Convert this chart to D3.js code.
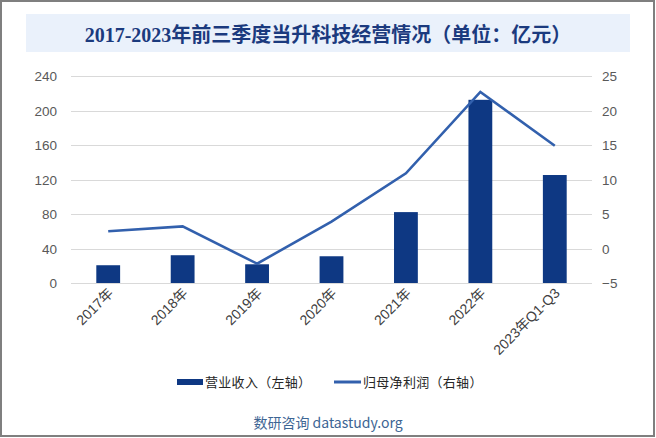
<!DOCTYPE html>
<html><head><meta charset="utf-8">
<script src="https://cdn.jsdelivr.net/npm/d3@7"></script>
<style>
html,body{margin:0;padding:0;background:#fff;}
svg{display:block;}
</style></head>
<body>
<svg id="chart" width="656" height="438"></svg>
<script>
const categories = ["2017年","2018年","2019年","2020年","2021年","2022年","2023年Q1-Q3"];
const revenue = [20.6, 32.2, 21.7, 31.0, 82.2, 212.4, 125.2];
const netProfit = [2.5, 3.2, -2.2, 3.9, 10.9, 22.7, 14.9];
const leftTicks = [0, 40, 80, 120, 160, 200, 240];
const rightTicks = [-5, 0, 5, 10, 15, 20, 25];

const svg = d3.select("#chart");
const W = 656, H = 438;
const m = {left: 71, right: 64};
const x0 = m.left, x1 = W - m.right, yTop = 76, yBot = 283;

// frame
svg.append("rect").attr("x",1).attr("y",1).attr("width",W-3).attr("height",H-3)
  .attr("fill","#fff").attr("stroke","#7f7f7f").attr("stroke-width",2);

// title box
svg.append("rect").attr("x",26).attr("y",14).attr("width",604).attr("height",38).attr("fill","#eaf1fb");
svg.append("text").attr("x",328).attr("y",42).attr("text-anchor","middle")
  .attr("font-family","'Liberation Serif','Noto Sans CJK SC',serif").attr("font-weight","bold")
  .attr("font-size",20).attr("fill","#1b3a7e")
  .text("2017-2023年前三季度当升科技经营情况（单位：亿元）");

const x = d3.scaleBand().domain(categories).range([x0, x1]).paddingInner(0.68).paddingOuter(0.34);
const yL = d3.scaleLinear().domain([0, 240]).range([yBot, yTop]);
const yR = d3.scaleLinear().domain([-5, 25]).range([yBot, yTop]);

// gridlines
svg.append("g").selectAll("line").data(leftTicks).join("line")
  .attr("x1",x0).attr("x2",x1).attr("y1",d=>Math.round(yL(d))+0.5).attr("y2",d=>Math.round(yL(d))+0.5)
  .attr("stroke","#d9d9d9").attr("stroke-width",1);

// left axis
const axL = d3.axisLeft(yL).tickValues(leftTicks).tickSize(0).tickPadding(0);
const gL = svg.append("g").attr("transform",`translate(${57},0)`).call(axL);
gL.select(".domain").remove();
gL.selectAll("text").attr("font-family","'Liberation Sans',Arial,sans-serif").attr("font-size",13.5).attr("fill","#595959").attr("dy","0.35em");

// right axis
const axR = d3.axisRight(yR).tickValues(rightTicks).tickSize(0).tickPadding(0);
const gR = svg.append("g").attr("transform",`translate(${602},0)`).call(axR);
gR.select(".domain").remove();
gR.selectAll("text").attr("font-family","'Liberation Sans',Arial,sans-serif").attr("font-size",13.5).attr("fill","#595959").attr("dy","0.35em");

// bars
svg.append("g").selectAll("rect").data(revenue).join("rect")
  .attr("x",(d,i)=>x(categories[i])).attr("width",x.bandwidth())
  .attr("y",d=>yL(d)).attr("height",d=>yL(0)-yL(d)).attr("fill","#0e3883");

// line
const line = d3.line().x((d,i)=>x(categories[i])+x.bandwidth()/2).y(d=>yR(d));
svg.append("path").datum(netProfit).attr("d",line).attr("fill","none")
  .attr("stroke","#3260ad").attr("stroke-width",2.6).attr("stroke-linejoin","miter");

// x labels
const axX = d3.axisBottom(x).tickSize(0).tickPadding(0);
const gX = svg.append("g").attr("transform",`translate(0,${yBot})`).call(axX);
gX.select(".domain").remove();
gX.selectAll("text").attr("font-family","'Liberation Sans',Arial,'Noto Sans CJK SC',sans-serif")
  .attr("font-size",14).attr("fill","#404040")
  .attr("text-anchor","end").attr("dy",0).attr("y",0)
  .attr("transform","translate(6,11) rotate(-45)");

// legend
const lg = svg.append("g").attr("font-family","'Noto Sans CJK SC',sans-serif").attr("font-size",13).attr("fill","#262626");
lg.append("rect").attr("x",177).attr("y",379).attr("width",26).attr("height",6).attr("fill","#0e3883");
lg.append("text").attr("x",205).attr("y",382).attr("dy","0.35em").attr("letter-spacing",0.3).text("营业收入（左轴）");
lg.append("line").attr("x1",334).attr("x2",361).attr("y1",382).attr("y2",382).attr("stroke","#3260ad").attr("stroke-width",3);
lg.append("text").attr("x",363).attr("y",382).attr("dy","0.35em").attr("letter-spacing",0.3).text("归母净利润（右轴）");

// footer
svg.append("text").attr("x",328).attr("y",423).attr("dy","0.35em").attr("text-anchor","middle")
  .attr("font-family","'Noto Sans CJK SC','Liberation Sans',sans-serif").attr("font-size",14).attr("fill","#3d6594")
  .text("数研咨询 datastudy.org");
</script>
</body></html>
